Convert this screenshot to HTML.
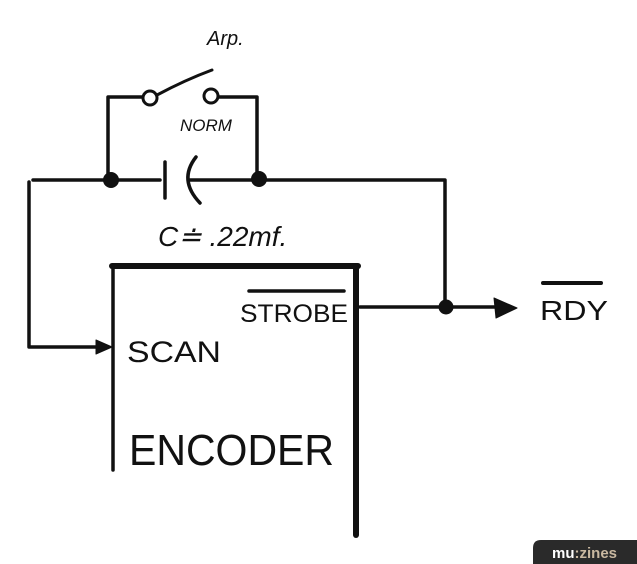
<!DOCTYPE html>
<html><head><style>
html,body{margin:0;padding:0;background:#fff;}
svg{display:block;}
text{font-family:"Liberation Sans",sans-serif;fill:#111;}
</style></head><body>
<svg width="637" height="564" viewBox="0 0 637 564" xmlns="http://www.w3.org/2000/svg">
<g stroke="#111" fill="none" stroke-linecap="round" stroke-linejoin="round">
<!-- top wire -->
<path d="M33 180 H160 M190 180 H445 V307" stroke-width="3.5"/>
<path d="M29 182 V347 H100" stroke-width="3.5"/>
<polygon points="96,340 112,347 96,354" fill="#111" stroke-width="1"/>
<!-- capacitor -->
<path d="M165 162 V198" stroke-width="3.5"/>
<path d="M196 157 Q178 180 200 203" stroke-width="3.5"/>
<!-- switch -->
<path d="M108 180 V97 H143" stroke-width="3.5"/>
<path d="M218 97 H257 V180" stroke-width="3.5"/>
<circle cx="150" cy="98" r="7" stroke-width="3" fill="#fff"/>
<circle cx="211" cy="96" r="7" stroke-width="3" fill="#fff"/>
<path d="M157 95 Q185 80 212 70" stroke-width="3"/>
<!-- box -->
<path d="M112 266 H358" stroke-width="6"/>
<path d="M113 266 V470" stroke-width="3.5"/>
<path d="M356 266 V535" stroke-width="6"/>
<!-- output -->
<path d="M360 307 H498" stroke-width="3.5"/>
<polygon points="494,298 517,308 496,318" fill="#111" stroke-width="1"/>
<!-- overbars -->
<path d="M249 291 H344" stroke-width="3.5"/>
<path d="M543 283 H601" stroke-width="4"/>
</g>
<circle cx="111" cy="180" r="8" fill="#111"/>
<circle cx="259" cy="179" r="8" fill="#111"/>
<circle cx="446" cy="307" r="7.5" fill="#111"/>
<text x="207" y="45" font-size="20" font-style="italic">Arp.</text>
<text x="180" y="131" font-size="17" font-style="italic">NORM</text>
<text x="158" y="246" font-size="28" font-style="italic">C≐ .22mf.</text>
<text x="240" y="322" font-size="25" textLength="108" lengthAdjust="spacingAndGlyphs">STROBE</text>
<text x="127" y="362" font-size="30" textLength="94" lengthAdjust="spacingAndGlyphs">SCAN</text>
<text x="129" y="465" font-size="44" textLength="205" lengthAdjust="spacingAndGlyphs">ENCODER</text>
<text x="540" y="320" font-size="28" textLength="68" lengthAdjust="spacingAndGlyphs">RDY</text>
<path d="M541 540 H637 V564 H533 V548 Q533 540 541 540 Z" fill="#2a2a2a"/>
<text x="552" y="558" font-size="15" font-weight="bold" style="fill:#fff">mu<tspan style="fill:#c9b8a0">:zines</tspan></text>
</svg>
</body></html>
